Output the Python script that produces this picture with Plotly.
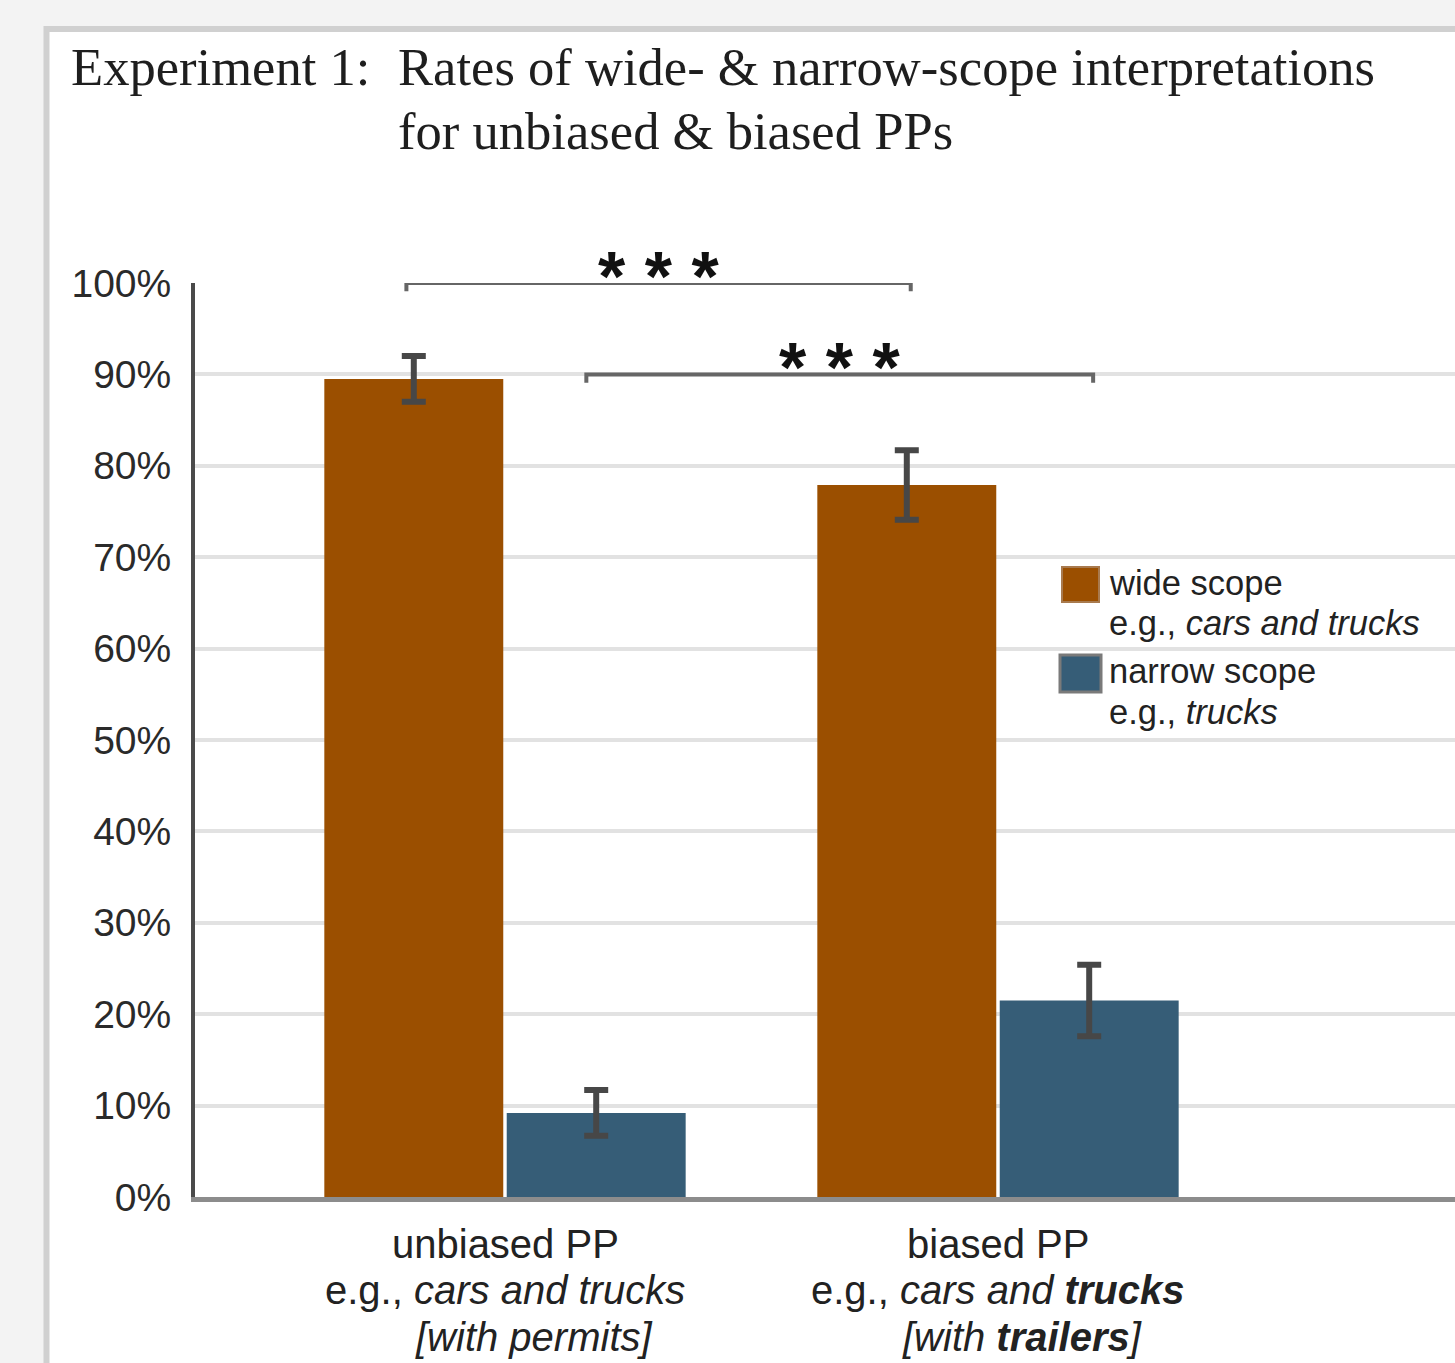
import plotly.graph_objects as go

# ---- data -------------------------------------------------------------
categories = [0, 1]  # unbiased PP, biased PP
wide_scope = [89.5, 77.9]
wide_err = [2.5, 3.8]
narrow_scope = [9.2, 21.5]
narrow_err = [2.5, 3.9]
y_ticks = [0, 10, 20, 30, 40, 50, 60, 70, 80, 90, 100]
y_tick_text = [f"{v}%" for v in y_ticks]

# significance brackets: (x start, x end, level)
brackets = [(-0.200, 0.823, 100), (0.165, 1.193, 90)]
sig_label = "* * *"

# category labels, three lines each
cat_line1 = ["unbiased PP", "biased PP"]
cat_line2 = ["e.g., <i>cars and trucks</i>", "e.g., <i>cars and <b>trucks</b></i>"]
cat_line3 = ["<i>[with permits]</i>", "<i>[with <b>trailers</b>]</i>"]
cat_line3_shift = [28, 24]

WIDE = "#9b4f00"
NARROW = "#365d77"
ERR = "#474747"

# ---- page geometry ------------------------------------------------------
W, H = 1455, 1363
L, R, T, B = 195, 0, 283, 166
PW, PH = W - L - R, H - T - B


def px_x(p):
    return (p - L) / PW


def px_y(p):
    return (H - B - p) / PH


SANS = "Liberation Sans, Arial, sans-serif"
SERIF = "Liberation Serif, Times New Roman, serif"
TITLE_SIZE = 52.6

fig = go.Figure()

fig.add_trace(go.Bar(
    x=categories, y=wide_scope, name="wide scope",
    marker=dict(color=WIDE, line=dict(width=0)),
    error_y=dict(type="data", array=wide_err, visible=True,
                 color=ERR, thickness=6, width=12),
    showlegend=False,
))
fig.add_trace(go.Bar(
    x=categories, y=narrow_scope, name="narrow scope",
    marker=dict(color=NARROW, line=dict(width=0)),
    error_y=dict(type="data", array=narrow_err, visible=True,
                 color=ERR, thickness=6, width=12),
    showlegend=False,
))

# significance brackets drawn as open lines above the bars
for x0, x1, lvl in brackets:
    fig.add_trace(go.Scatter(
        x=[x0, x0, x1, x1], y=[lvl - 0.9, lvl, lvl, lvl - 0.9],
        mode="lines", line=dict(color="#666666", width=4),
        cliponaxis=False, showlegend=False, hoverinfo="skip",
    ))

annotations = []
for x0, x1, lvl in brackets:
    annotations.append(dict(
        x=(x0 + x1) / 2, y=lvl, xref="x", yref="y",
        text=f"<b>{sig_label}</b>", showarrow=False, xanchor="center",
        yanchor="middle", yshift=6,
        font=dict(family=SANS, size=70, color="#111111"),
    ))

# title
annotations += [
    dict(x=px_x(69), y=px_y(67), xref="paper", yref="paper",
         text="Experiment 1:", showarrow=False, xanchor="left", yanchor="middle",
         font=dict(family=SERIF, size=TITLE_SIZE, color="#1e1e1e")),
    dict(x=px_x(396), y=px_y(67), xref="paper", yref="paper",
         text="Rates of wide- &amp; narrow-scope interpretations", showarrow=False,
         xanchor="left", yanchor="middle",
         font=dict(family=SERIF, size=TITLE_SIZE, color="#1e1e1e")),
    dict(x=px_x(396), y=px_y(131), xref="paper", yref="paper",
         text="for unbiased &amp; biased PPs", showarrow=False,
         xanchor="left", yanchor="middle",
         font=dict(family=SERIF, size=TITLE_SIZE, color="#1e1e1e")),
]

# category labels below the axis
for i, c in enumerate(categories):
    for txt, ymid, xs in ((cat_line1[i], 1244, 0), (cat_line2[i], 1290, 0),
                          (cat_line3[i], 1337, cat_line3_shift[i])):
        annotations.append(dict(
            x=c, y=px_y(ymid), xref="x", yref="paper", text=txt,
            showarrow=False, xanchor="center", yanchor="middle", xshift=xs,
            font=dict(family=SANS, size=40, color="#222222"),
        ))

# legend text
legend_lines = [
    ("wide scope", 583),
    ("e.g., <i>cars and trucks</i>", 623),
    ("narrow scope", 671),
    ("e.g., <i>trucks</i>", 712),
]
for txt, ymid in legend_lines:
    annotations.append(dict(
        x=px_x(1107), y=px_y(ymid), xref="paper", yref="paper", text=txt,
        showarrow=False, xanchor="left", yanchor="middle",
        font=dict(family=SANS, size=34.5, color="#222222"),
    ))

shapes = [
    # white panel with grey frame
    dict(type="rect", xref="paper", yref="paper",
         x0=px_x(46.5), x1=px_x(1500), y0=px_y(1400), y1=px_y(29),
         fillcolor="white", line=dict(color="#d0d0d0", width=6), layer="below"),
    # legend swatches
    dict(type="rect", xref="paper", yref="paper",
         x0=px_x(1062), x1=px_x(1099), y0=px_y(602), y1=px_y(567),
         fillcolor=WIDE, line=dict(color="#a87a4e", width=2)),
    dict(type="rect", xref="paper", yref="paper",
         x0=px_x(1060), x1=px_x(1101), y0=px_y(692), y1=px_y(655),
         fillcolor=NARROW, line=dict(color="#7a7a7a", width=3)),
]

fig.update_layout(
    width=W, height=H, autosize=False,
    margin=dict(l=L, r=R, t=T, b=B, pad=0),
    paper_bgcolor="#f3f3f3", plot_bgcolor="rgba(0,0,0,0)",
    barmode="group", bargap=0.26, bargroupgap=0.019,
    annotations=annotations, shapes=shapes,
    xaxis=dict(range=[-0.6288, 1.927], showticklabels=False, ticks="",
               showgrid=False, zeroline=False, showline=True,
               linecolor="#8c8c8c", linewidth=5, layer="below traces"),
    yaxis=dict(range=[0, 100], tickvals=y_ticks, ticktext=y_tick_text,
               tickfont=dict(family=SANS, size=39, color="#2a2a2a"),
               ticks="", ticklabelstandoff=12,
               showgrid=True, gridcolor="#e2e2e2", gridwidth=4,
               zeroline=False, showline=True, linecolor="#4a4a4a", linewidth=4),
)

fig.write_html("out.html")
